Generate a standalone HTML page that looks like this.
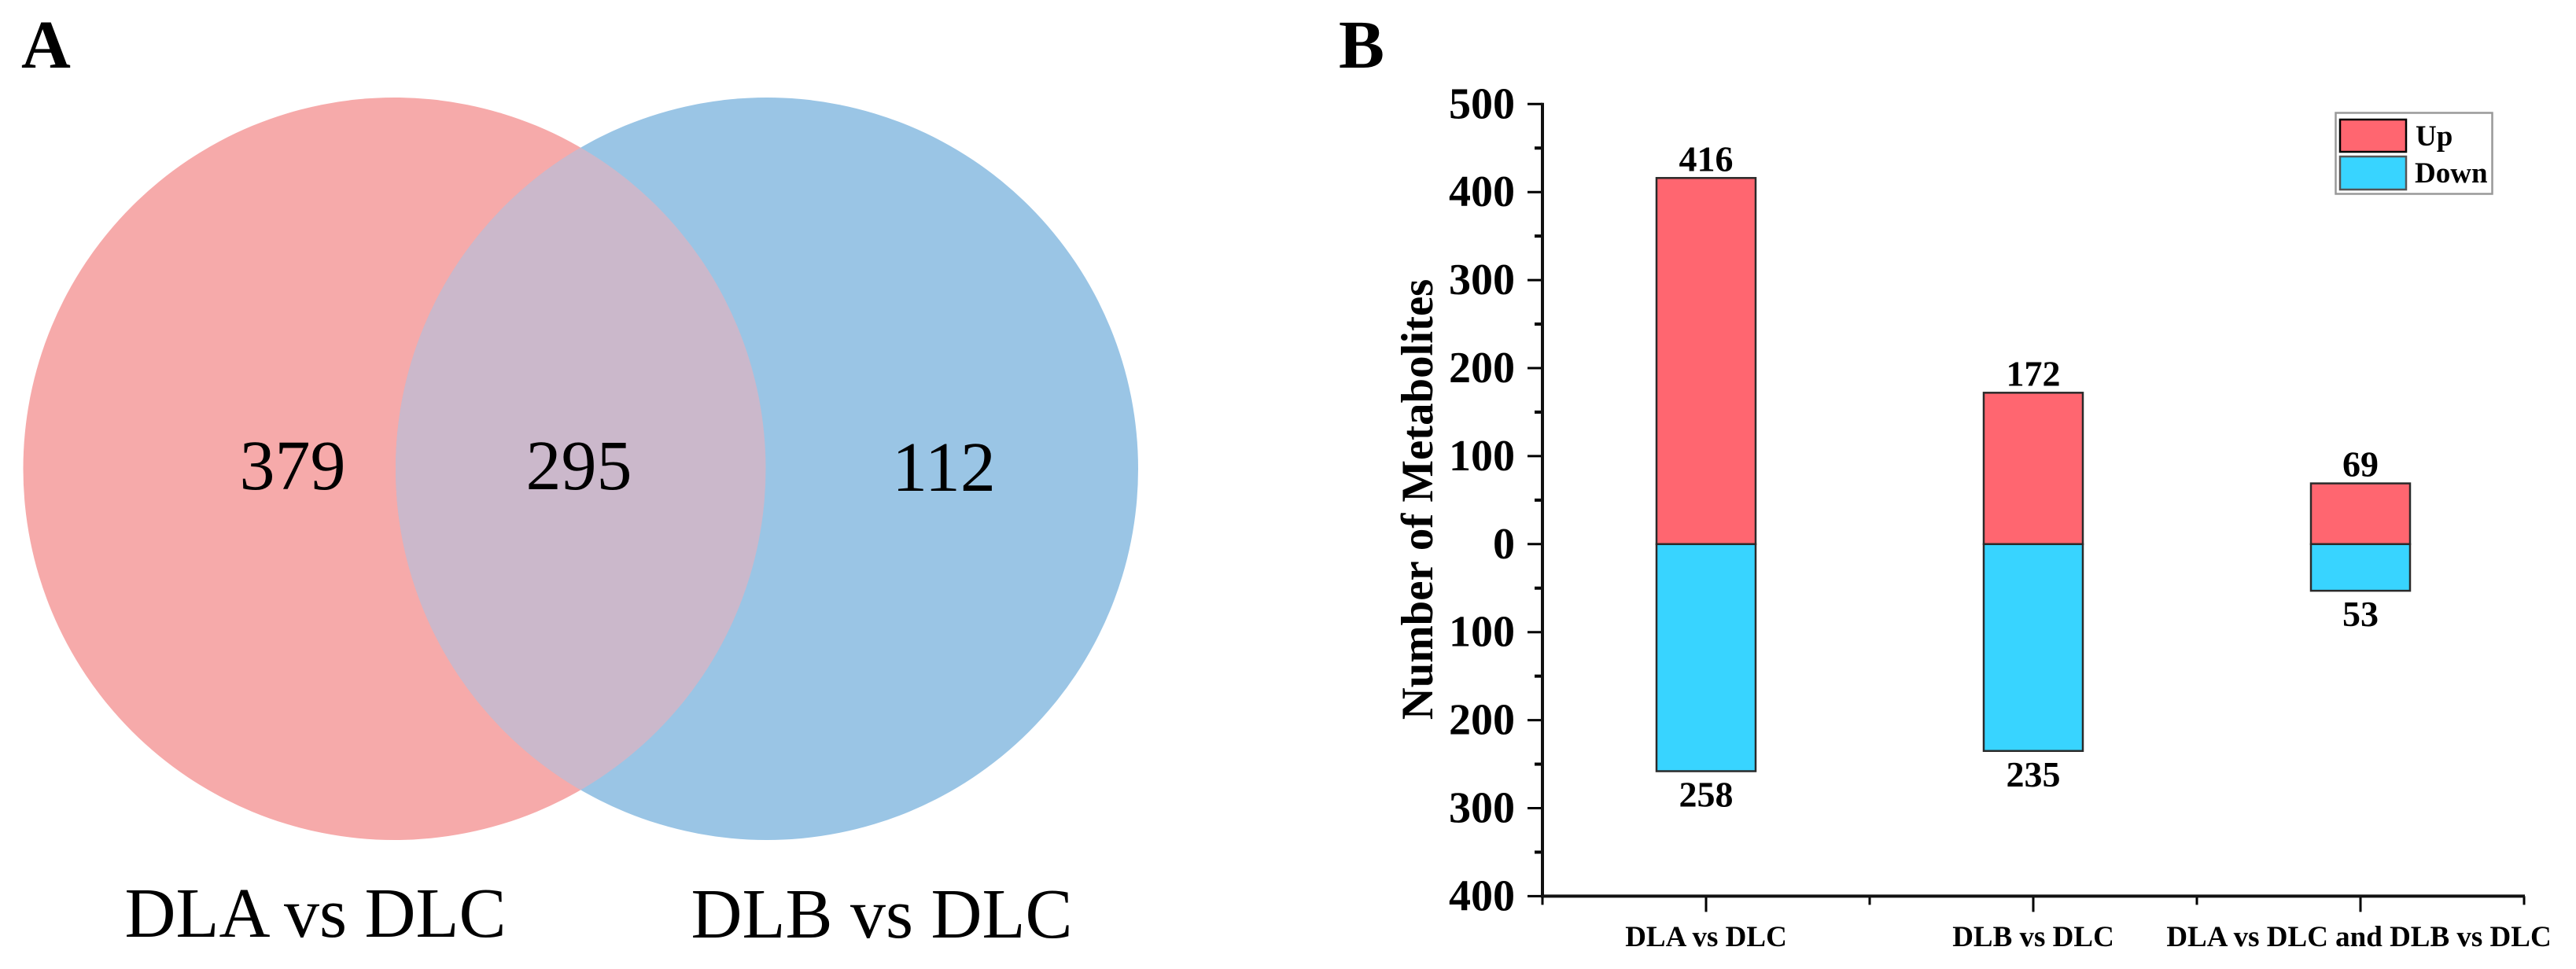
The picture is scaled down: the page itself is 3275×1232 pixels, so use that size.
<!DOCTYPE html>
<html lang="en">
<head>
<meta charset="utf-8">
<title>Venn diagram and metabolite bar chart</title>
<style>
html,body{margin:0;padding:0;background:#fff;width:3275px;height:1232px;overflow:hidden}
svg{display:block}
text{font-family:"Liberation Serif","Times New Roman",serif;fill:#000}
.b{font-weight:bold}
</style>
</head>
<body>
<svg id="figure" xmlns="http://www.w3.org/2000/svg" width="3275" height="1232" viewBox="0 0 3275 1232">
  <rect x="0" y="0" width="3275" height="1232" fill="#fff"/>
  <defs>
    <clipPath id="left-clip"><circle cx="501.5" cy="596" r="472"/></clipPath>
  </defs>

  <text class="b" x="27" y="86" font-size="87">A</text>
  <text class="b" x="1702" y="86" font-size="87">B</text>

  <g>
    <circle cx="501.5" cy="596" r="472" fill="#F6AAAA"/>
    <circle cx="975" cy="596" r="472" fill="#9AC5E5"/>
    <circle cx="975" cy="596" r="472" fill="#CBB8CB" clip-path="url(#left-clip)"/>
    <text x="372" y="622" font-size="90" text-anchor="middle">379</text>
    <text x="736" y="622" font-size="90" text-anchor="middle">295</text>
    <text x="1200" y="624" font-size="90" text-anchor="middle">112</text>
    <text x="401" y="1191" font-size="90" text-anchor="middle">DLA vs DLC</text>
    <text x="1121" y="1192" font-size="90" text-anchor="middle">DLB vs DLC</text>
  </g>

  <g id="chart"></g>
</svg>

<script>
const categories = ["DLA vs DLC", "DLB vs DLC", "DLA vs DLC and DLB vs DLC"];
const upValues = [416, 172, 69];
const downValues = [258, 235, 53];
const yTickValues = [500, 400, 300, 200, 100, 0, -100, -200, -300, -400];
const yMinorValues = [450, 350, 250, 150, 50, -50, -150, -250, -350];

const NS = "http://www.w3.org/2000/svg";
const chart = document.getElementById("chart");

const plotLeft = 1961;
const plotRight = 3209;
const zeroY = 691.8;
const pxPerUnit = 1.119;
const slotWidth = (plotRight - plotLeft) / categories.length;
const barWidth = 126;

function yScale(v) { return zeroY - v * pxPerUnit; }
function xCenter(i) { return plotLeft + slotWidth * (i + 0.5); }

function make(tag, attrs, parent) {
  const el = document.createElementNS(NS, tag);
  for (const k in attrs) el.setAttribute(k, attrs[k]);
  (parent || chart).appendChild(el);
  return el;
}

const axisBottom = yScale(yTickValues[yTickValues.length - 1]);
const axisTop = yScale(yTickValues[0]);

/* y ticks and labels */
yTickValues.forEach(function (v) {
  const tick = make("line", { x1: plotLeft - 19, x2: plotLeft, y1: yScale(v), y2: yScale(v), stroke: "#000", "stroke-width": 3 });
  
  
  const label = make("text", { x: 1926, y: yScale(v) + 18, "font-size": 56, "text-anchor": "end", "class": "b" });
  label.textContent = String(Math.abs(v));
  
  
});
yMinorValues.forEach(function (v) {
  const tick = make("line", { x1: plotLeft - 10, x2: plotLeft, y1: yScale(v), y2: yScale(v), stroke: "#000", "stroke-width": 4 });
  
  
});

/* x ticks */
for (let i = 0; i <= categories.length; i++) {
  const x = plotLeft + slotWidth * i;
  const minor = make("line", { x1: x, x2: x, y1: axisBottom, y2: axisBottom + 11, stroke: "#000", "stroke-width": 3 });
  
  
}

/* bars, value labels and categories */
categories.forEach(function (name, i) {
  const cx = xCenter(i);
  const upBar = make("rect", { x: cx - barWidth / 2, y: yScale(upValues[i]), width: barWidth, height: yScale(0) - yScale(upValues[i]), fill: "#FF6670", stroke: "#2a2a2a", "stroke-width": 2.5 });
  
  
  const downBar = make("rect", { x: cx - barWidth / 2, y: yScale(0), width: barWidth, height: yScale(-downValues[i]) - yScale(0), fill: "#38D4FF", stroke: "#2a2a2a", "stroke-width": 2.5 });
  
  

  const upLabel = make("text", { x: cx, y: yScale(upValues[i]) - 9, "font-size": 46, "text-anchor": "middle", "class": "b" });
  upLabel.textContent = String(upValues[i]);
  
  
  const downLabel = make("text", { x: cx, y: yScale(-downValues[i]) + 45, "font-size": 46, "text-anchor": "middle", "class": "b" });
  downLabel.textContent = String(downValues[i]);
  
  

  const majorTick = make("line", { x1: cx, x2: cx, y1: axisBottom, y2: axisBottom + 20, stroke: "#000", "stroke-width": 3 });
  
  
  const catLabel = make("text", { x: cx - (i === 2 ? 2 : 0), y: 1203, "font-size": 37, "text-anchor": "middle", "class": "b" });
  catLabel.textContent = name;
  
  
});

/* axes */
const yAxis = make("line", { x1: plotLeft, x2: plotLeft, y1: axisTop - 1.5, y2: axisBottom + 2, stroke: "#111", "stroke-width": 4 });


const xAxis = make("line", { x1: plotLeft - 2, x2: plotRight + 1, y1: axisBottom, y2: axisBottom, stroke: "#111", "stroke-width": 4 });



const yTitle = make("text", { transform: "translate(1821 635) rotate(-90)", "font-size": 56.8, "text-anchor": "middle", "class": "b" });
yTitle.textContent = "Number of Metabolites";



/* legend */
const legend = make("g", {});


const legendBox = make("rect", { x: 2969.5, y: 143.5, width: 199, height: 103, fill: "#fff", stroke: "#999", "stroke-width": 2.5 }, legend);


const upSwatch = make("rect", { x: 2975, y: 152, width: 84, height: 41, fill: "#FF6670", stroke: "#000", "stroke-width": 2.5 }, legend);


const upText = make("text", { x: 3071, y: 185, "font-size": 37, "class": "b" }, legend);
upText.textContent = "Up";


const downSwatch = make("rect", { x: 2975, y: 199, width: 84, height: 42, fill: "#38D4FF", stroke: "#555", "stroke-width": 2.5 }, legend);


const downText = make("text", { x: 3070, y: 232, "font-size": 37, "class": "b" }, legend);
downText.textContent = "Down";


</script>
</body>
</html>
